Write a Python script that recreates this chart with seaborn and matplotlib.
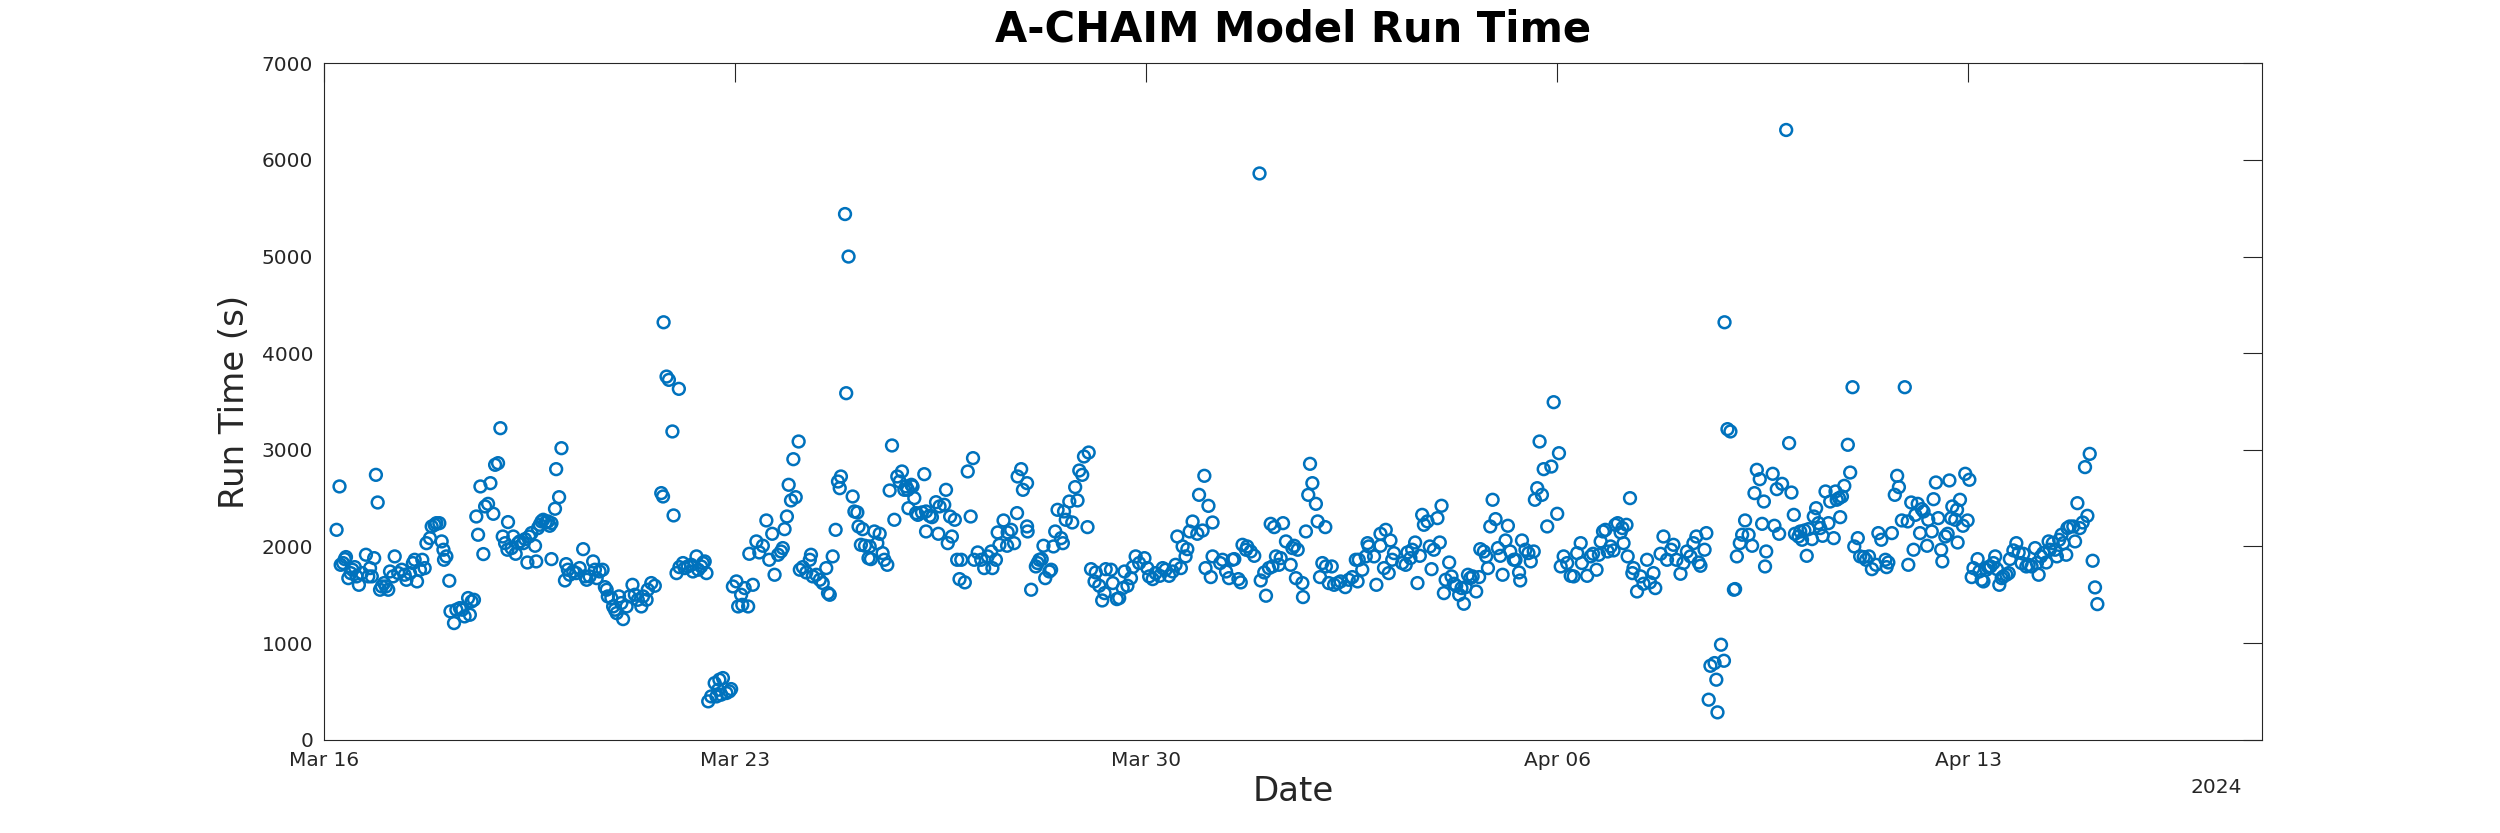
import matplotlib
matplotlib.use("Agg")
import matplotlib.pyplot as plt
import matplotlib.dates as mdates
import numpy as np
import pandas as pd
import seaborn as sns

START = pd.Timestamp("2024-03-16")

# run start, in days after Mar 16 2024, and run time in seconds
run_days = [
    0.21, 0.26, 0.28, 0.32, 0.35, 0.37, 0.41, 0.45, 0.48, 0.52, 0.55, 0.59, 0.64, 0.71, 0.75,
    0.78, 0.81, 0.85, 0.88, 0.91, 0.95, 0.98, 1.02, 1.05, 1.09, 1.12, 1.17, 1.20, 1.26, 1.32,
    1.37, 1.40, 1.46, 1.51, 1.54, 1.58, 1.63, 1.67, 1.71, 1.74, 1.80, 1.83, 1.88, 1.91, 1.96,
    2.00, 2.03, 2.04, 2.08, 2.13, 2.15, 2.21, 2.25, 2.31, 2.35, 2.39, 2.45,
    2.51, 2.55, 2.48, 2.59, 2.62, 2.66, 2.71, 2.74, 2.79, 2.83, 2.88, 2.91, 2.96, 3.00, 3.04,
    3.08, 3.12, 3.13, 3.19, 3.22, 3.26, 3.30, 3.33, 3.39, 3.42, 3.46, 3.49, 3.53, 3.59, 3.61,
    3.64, 3.67, 3.70, 3.73, 3.77, 3.81, 3.84, 3.87, 3.93, 3.95, 4.00, 4.04, 3.87, 4.10, 4.12,
    4.15, 4.18, 4.24, 4.29, 4.35, 4.41, 4.44, 4.47, 4.52, 4.58, 4.61, 4.64, 4.69, 4.74, 4.78,
    4.81, 4.83, 4.89, 4.92, 4.95, 4.98, 5.02, 5.06, 5.09, 5.15, 5.20, 5.25, 5.29, 5.34, 5.40,
    5.43, 5.49, 5.51, 5.57, 5.63,
    5.74, 5.77, 5.78, 5.83, 5.87, 6.04, 5.93, 5.95, 6.00, 6.05, 6.11, 6.14, 6.19, 6.25, 6.28,
    6.34, 6.37, 6.42, 6.45, 6.51, 6.48, 6.54, 6.59, 6.65, 6.71, 6.73, 6.79, 6.85, 6.90, 6.93,
    6.76, 6.68, 6.96, 7.02, 7.05, 7.10, 7.16, 7.22, 7.30, 7.12, 7.24, 7.36, 7.41, 7.47, 7.53,
    7.58, 7.63, 7.67, 7.73, 7.78, 7.81, 7.84, 7.88, 7.91, 7.95, 8.03, 7.99, 8.08, 8.10, 8.15,
    8.21, 8.27, 8.29, 8.32, 8.38, 8.44, 8.49, 8.55, 8.58, 8.61, 8.66, 8.71, 8.75, 8.78, 8.80,
    8.87, 8.89, 8.93,
    9.00, 9.03, 9.08, 9.10, 9.17, 9.14, 9.21, 9.29, 9.31, 9.27, 9.37, 9.46, 9.42, 9.51, 9.54,
    9.59, 9.63, 9.67, 9.71, 9.76, 9.80, 9.84, 9.88, 9.91, 9.94, 10.00, 10.02, 10.05, 9.95, 10.08,
    10.11, 10.18, 10.25, 10.31, 10.35, 10.42, 10.48, 10.56, 10.59, 10.22, 10.25, 10.46, 10.62,
    10.69, 10.66, 10.74, 10.78, 10.85, 10.82, 10.91, 10.96, 11.05, 11.01, 11.07, 11.13, 11.19,
    11.24, 11.30, 11.36, 11.38, 11.44, 11.50, 11.47, 11.57, 11.64, 11.70, 11.75, 11.63, 11.80,
    11.81, 11.87, 11.90, 11.97, 11.98, 11.97, 12.04,
    12.12, 12.18, 12.22, 12.15, 12.25, 12.28, 12.35, 12.38, 12.42, 12.45, 12.49, 12.55, 12.58,
    12.60, 12.63, 12.69, 12.74, 12.79, 12.83, 12.86, 12.91, 12.94, 13.02, 13.00, 13.06, 13.12,
    13.14, 13.20, 13.25, 13.29, 13.31, 13.40, 13.43, 13.50, 13.54, 13.60, 13.63, 13.68, 13.74,
    13.77, 13.82, 13.88, 13.97, 14.02, 14.05, 14.11, 14.16, 14.23, 14.28, 14.33, 14.39, 14.45,
    14.50, 14.59, 14.53, 14.62, 14.67, 14.70, 14.74, 14.79, 14.87, 14.96, 14.90, 14.99, 15.06,
    15.13, 15.01, 15.10, 15.13,
    15.26, 15.30, 15.36, 15.41, 15.47, 15.50, 15.57, 15.61, 15.64, 15.70, 15.72, 15.78, 15.84,
    15.93, 15.95, 16.01, 16.04, 16.09, 16.15, 16.12, 16.18, 16.21, 16.26, 16.29, 16.33, 16.38,
    16.46, 16.49, 16.52, 16.58, 16.55, 16.66, 16.67, 16.72, 16.76, 16.79, 16.83, 16.89, 16.92,
    17.05, 17.00, 17.06, 17.16, 16.96, 17.11, 17.20, 17.26, 17.31, 17.39, 17.45, 17.51, 17.57,
    17.62, 17.68, 17.60, 17.74, 17.77, 17.79, 17.88, 17.92, 17.99, 17.99, 18.08, 18.16, 18.05,
    18.13, 18.19, 18.22,
    18.36, 18.42, 18.45, 18.50, 18.53, 18.58, 18.62, 18.66, 18.70, 18.73, 18.79, 18.83, 18.86,
    18.90, 18.96, 19.00, 19.03, 19.07, 19.10, 19.16, 19.20, 19.24, 19.28, 19.33, 19.37, 19.41,
    19.44, 19.48, 19.52, 19.56, 19.62, 19.67, 19.69, 19.75, 19.79, 19.82, 19.86, 19.90, 19.95,
    19.99, 20.03, 20.07, 20.12, 20.16, 20.20, 20.26, 20.29, 20.35, 20.37, 20.40, 20.46, 20.51,
    20.55, 20.60, 20.62, 20.66, 20.70, 20.74, 20.77, 20.83, 20.90, 20.94, 21.00, 21.03, 21.06,
    21.11, 21.17, 21.23, 21.28, 21.34, 21.40, 21.42,
    21.51, 21.57, 21.61, 21.67, 21.71, 21.74, 21.78, 21.82, 21.86, 21.91, 21.96, 21.99, 22.03,
    22.08, 22.11, 22.18, 22.13, 22.24, 22.20, 22.28, 22.30, 22.36, 22.42, 22.47, 22.53, 22.58,
    22.64, 22.67, 22.76, 22.81, 22.87, 22.94, 22.98, 23.03, 23.10, 23.15, 23.21, 23.27, 23.32,
    23.37, 23.41, 23.44, 23.51, 23.54, 23.58, 23.61, 23.68, 23.71, 23.73, 23.79, 23.84, 23.85,
    23.90, 23.95, 24.01, 24.03, 24.06, 24.11, 24.15, 24.20, 24.26, 24.32, 24.36, 24.40, 24.45,
    24.52, 24.49, 24.54, 24.56, 24.90,
    24.67, 24.70, 24.74, 24.78, 24.83, 24.95, 24.99, 25.03, 25.05, 25.11, 25.14, 25.17, 25.21,
    25.25, 25.28, 25.34, 25.37, 25.41, 25.45, 25.48, 25.52, 25.57, 25.62, 25.65, 25.71, 25.74,
    25.76, 25.80, 25.85, 25.82, 25.89, 25.95, 25.99, 26.03, 26.06, 26.12, 26.16, 26.22, 26.26,
    26.31, 26.36, 26.43, 26.47, 26.52, 26.59, 26.64, 26.61, 26.70, 26.75, 26.79, 26.82, 26.87,
    26.92, 26.97, 26.98, 27.03, 27.07, 27.10, 27.14, 27.18, 27.21, 27.24, 27.30, 27.32, 27.38,
    27.41, 27.45, 27.49, 27.54, 27.56, 27.61, 27.65, 27.68, 27.71, 27.73,
    27.95, 28.02, 27.86, 27.81, 27.78, 27.91, 27.99, 27.82, 28.06, 28.09, 28.16, 28.19, 28.23,
    28.26, 28.31, 28.34, 28.38, 28.43, 28.46, 28.49, 28.53, 28.57, 28.60, 28.65, 28.69, 28.71,
    28.77, 28.82, 28.86, 28.91, 28.94, 28.99, 29.03, 29.08, 29.14, 29.17, 29.20, 29.24, 29.28,
    29.33, 29.37, 29.39, 29.44, 29.48, 29.51, 29.55, 29.59, 29.62, 29.67, 29.69, 29.73, 29.79,
    29.82, 29.86, 29.90, 29.95, 30.03, 29.99, 30.07, 30.12, 30.16, 30.20,
]

run_seconds = [
    2172, 2621, 1810, 1828, 1869, 1890, 1672, 1724, 1759, 1786, 1690, 1603, 1724, 1914, 1690,
    1776, 1690, 1879, 2741, 2455, 1552, 1586, 1621, 1586, 1552, 1741, 1690, 1897, 1724, 1759,
    1707, 1655, 1724, 1828, 1862, 1638, 1759, 1862, 1776, 2034, 2086, 2207, 2224, 2241, 2241,
    2052, 1966, 1862, 1897, 1645, 1328, 1207, 1345, 1362, 1345, 1276, 1466,
    1431, 1448, 1293, 2310, 2121, 2621, 1921, 2414, 2441, 2655, 2338, 2845, 2862, 3224, 2103,
    2034, 1966, 2252, 1983, 2103, 1924, 2034, 2052, 2034, 2076, 1834, 2103, 2138, 2007, 1845,
    2190, 2224, 2259, 2276, 2248, 2259, 2214, 2241, 2390, 2800, 2510, 3017, 1869, 1648, 1817,
    1759, 1707, 1741, 1724, 1776, 1972, 1690, 1655, 1690, 1845, 1759, 1672, 1741, 1759, 1579,
    1552, 1483, 1466, 1379, 1345, 1310, 1483, 1414, 1248, 1379, 1483, 1603, 1500, 1448, 1379,
    1483, 1448, 1552, 1621, 1593,
    2552, 2517, 4320, 3758, 3724, 3631, 3190, 2321, 1724, 1786, 1828, 1776, 1793, 1810, 1741,
    1897, 1759, 1793, 1828, 1724, 1845, 397, 448, 586, 517, 621, 638, 483, 500, 524,
    466, 448, 1586, 1638, 1379, 1500, 1569, 1379, 1603, 1396, 1924, 2052, 1938, 2007, 2269,
    1862, 2131, 1707, 1914, 1948, 1983, 2179, 2310, 2638, 2476, 2510, 2903, 3086, 1759, 1786,
    1731, 1862, 1914, 1690, 1707, 1655, 1621, 1776, 1517, 1500, 1897, 2172, 2672, 2603, 2724,
    5440, 3586, 5000,
    2517, 2362, 2352, 2207, 2179, 2017, 2007, 2000, 1869, 1879, 2155, 2131, 2034, 1931, 1862,
    1810, 2579, 3045, 2276, 2724, 2672, 2776, 2586, 2621, 2586, 2638, 2621, 2500, 2396, 2345,
    2327, 2352, 2362, 2317, 2303, 2458, 2414, 2431, 2586, 2748, 2155, 2131, 2034,
    2103, 2310, 2276, 1862, 1862, 1662, 1628, 2776, 2914, 2310, 1862, 1938, 1862,
    1776, 1897, 1948, 1776, 1862, 2017, 2145, 2269, 2145, 2172, 2034, 2007, 2345,
    2724, 2800, 2586, 2207, 2155, 2655, 1552,
    1793, 1862, 1869, 1828, 2007, 1672, 1741, 1759, 2000, 2155, 2379, 2086, 2034,
    2362, 2276, 2465, 2248, 2614, 2476, 2786, 2741, 2931, 2972, 2200, 1765, 1638,
    1731, 1593, 1441, 1517, 1765, 1759, 1621, 1455, 1466, 1569, 1741, 1593, 1672,
    1786, 1897, 1828, 1879, 1776, 1690, 1662, 1724, 1696, 1776, 1759, 1696, 1741,
    1810, 1776, 2103, 2000, 1897, 1972, 2155, 2258, 2131, 2165, 2534, 2731, 2420,
    2248, 1776, 1683, 1897,
    1828, 1862, 1741, 1672, 1862, 1869, 1662, 1628, 2017, 1966, 2000, 1948, 1903,
    5860, 1648, 1731, 1490, 1776, 1793, 2234, 2200, 1897, 1810, 1879, 2241, 2052,
    1810, 1983, 2007, 1966, 1672, 1621, 1476, 2155, 2534, 2855, 2655, 2441, 2259,
    2200, 1828, 1793, 1793, 1683, 1621, 1603, 1621, 1638, 1579, 1655, 1683, 1862,
    1862, 1759, 1638, 1897, 2034, 2000, 1897, 1603, 2007, 2131, 2172, 2062, 1776,
    1724, 1862, 1931,
    1828, 1810, 1938, 1879, 1966, 2041, 1621, 1903, 2327, 2224, 2259, 2000, 1765,
    1966, 2293, 2041, 2421, 1517, 1655, 1834, 1690, 1614, 1593, 1500, 1569, 1407,
    1579, 1707, 1672, 1690, 1534, 1683, 1972, 1948, 1897, 1776, 2207, 2483, 2283,
    1983, 1903, 1707, 2062, 2214, 1948, 1862, 1862, 1731, 1648, 2062, 1966, 1931,
    1845, 1948, 2483, 2603, 3086, 2534, 2800, 2207, 2827, 3493, 2338, 2965, 1793,
    1897, 1828, 1696, 1690, 1931, 2034, 1828,
    1696, 1897, 1924, 1759, 1914, 2052, 2155, 2172, 1948, 2000, 1959, 2224, 2241,
    2145, 2190, 2224, 2034, 2500, 1897, 1724, 1776, 1534, 1690, 1614, 1862, 1628,
    1724, 1569, 1924, 2103, 1862, 1966, 2017, 1862, 1717, 1828, 1948, 1897, 2034,
    2103, 1834, 1800, 1966, 2138, 414, 765, 793, 621, 283, 983, 817, 4320,
    3214, 3190, 1552, 1559, 1897, 2034, 2121, 2269, 2121, 2007, 2552, 2793, 2696,
    2465, 2234, 1793, 1948, 6310,
    2752, 2214, 2593, 2131, 2648, 3069, 2558, 2327, 2131, 2103, 2155, 2069, 2165,
    1903, 2179, 2076, 2310, 2396, 2241, 2190, 2110, 2569, 2241, 2465, 2086, 2569,
    2483, 2500, 2517, 2303, 2627, 3052, 2765, 3648, 2000, 2086, 1897, 1890, 1862,
    1897, 1765, 1810, 2138, 2069, 1862, 1834, 1786, 2138, 2534, 2731, 2614, 2269,
    3648, 2259, 1810, 2455, 1966, 2327, 2441, 2138, 2386, 2362, 2007, 2276, 2155,
    2489, 2662, 2293, 1966, 1845, 2103, 2131, 2683, 2293, 2414,
    2752, 2690, 2483, 2379, 2276, 2214, 2269, 2041, 1683, 1776, 1869, 1741, 1655,
    1638, 1759, 1786, 1793, 1828, 1897, 1765, 1603, 1672, 1690, 1707, 1724, 1869,
    1959, 2034, 1938, 1828, 1924, 1793, 1810, 1793, 1983, 1828, 1707, 1897, 1931,
    1834, 2052, 1966, 2034, 1966, 1897, 2069, 2121, 2034, 1914, 2190, 2207, 2207,
    2052, 2448, 2190, 2248, 2317, 2821, 2958, 1852, 1576, 1403,
]

tick_days = [0, 7, 14, 21, 28]
y_ticks = [0, 1000, 2000, 3000, 4000, 5000, 6000, 7000]

df = pd.DataFrame({
    "time": START + pd.to_timedelta(run_days, unit="D"),
    "run_time": run_seconds,
})

sns.set_style("white")
plt.rcParams["font.family"] = ["DejaVu Sans"]
axis_color = "#262626"

fig = plt.figure(figsize=(25, 8.33), dpi=100)
ax = fig.add_axes([0.1297, 0.112, 0.775, 0.812])

sns.scatterplot(data=df, x="time", y="run_time", ax=ax, marker="o", s=72,
                facecolor="none", edgecolor="#0072BD", linewidth=1.8)

ax.set_xlim(START, START + pd.Timedelta(days=33))
ax.set_ylim(0, 7000)
ax.set_xticks([START + pd.Timedelta(days=d) for d in tick_days])
ax.xaxis.set_major_formatter(mdates.DateFormatter("%b %d"))
ax.set_yticks(y_ticks)

ax.tick_params(direction="in", length=14, width=0.8, colors=axis_color,
               labelsize=14.5, top=True, right=True, pad=8)
for sp in ax.spines.values():
    sp.set_color(axis_color)
    sp.set_linewidth(0.8)

ax.set_title("A-CHAIM Model Run Time", fontsize=30, fontweight="bold",
             color="black", pad=16)
ax.set_xlabel("Date", fontsize=24.5, color=axis_color, labelpad=4)
ax.set_ylabel("Run Time (s)", fontsize=24.5, color=axis_color, labelpad=8)
ax.text(0.99, -0.07, "2024", transform=ax.transAxes, ha="right", va="center",
        fontsize=14.5, color=axis_color)

fig.savefig("out.png", dpi=100)
